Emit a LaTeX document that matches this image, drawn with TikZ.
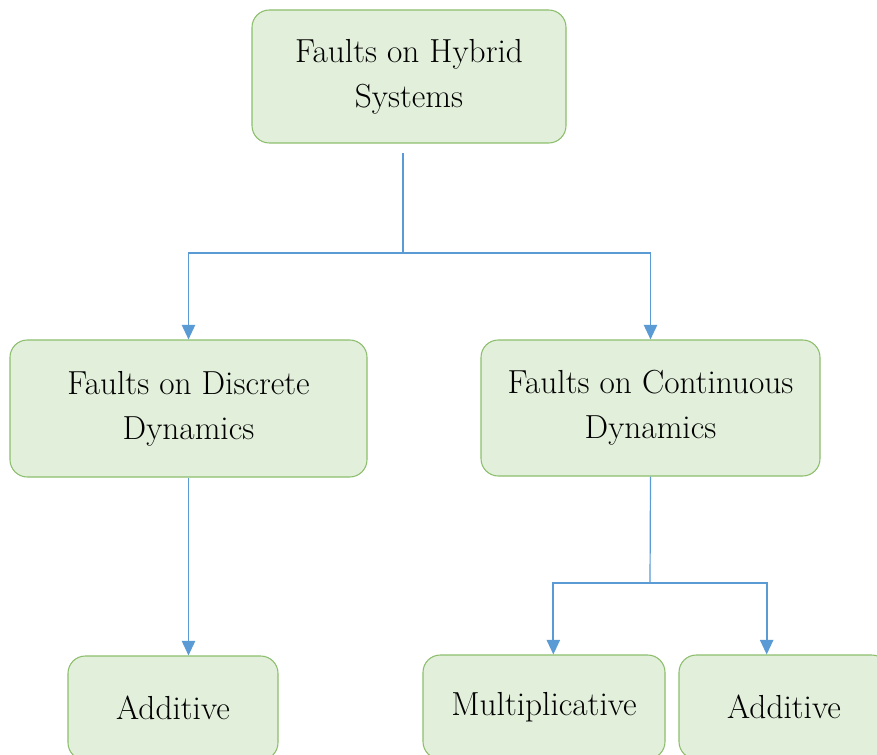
\documentclass[tikz,border=0pt]{standalone}
\usepackage{fontspec}
\usetikzlibrary{arrows.meta}
\usetikzlibrary{calc}
\definecolor{boxfill}{HTML}{E2EFDA}
\definecolor{boxline}{HTML}{8DBE6E}
\definecolor{linkblue}{HTML}{5B9BD5}
\tikzstyle{faultbox}=[draw=boxline,fill=boxfill,rounded corners=13pt,line width=0.8pt,align=center,inner sep=0pt,font=\fontsize{25}{34}\selectfont]
\tikzstyle{stem} = [draw=linkblue,line width=0.9pt]
\tikzstyle{link} = [draw=linkblue,line width=1.3pt,-{Triangle[length=11pt,width=10pt]}]

\begin{document}
\begin{tikzpicture}[x=0.75pt,y=-0.75pt]
    \clip (0,0) rectangle (877,755);
    \fill[white] (0,0) rectangle (877,755);

    % boxes
    \node[faultbox,minimum width=235.5pt,minimum height=99.75pt] (hybrid) at (409,76.5) {Faults on Hybrid\\Systems};
    \node[faultbox,minimum width=267.75pt,minimum height=102.75pt] (discrete) at (188.5,408.5) {Faults on Discrete\\Dynamics};
    \node[faultbox,minimum width=254.25pt,minimum height=102pt] (continuous) at (650.5,408) {Faults on Continuous\\Dynamics};
    \node[faultbox,minimum width=157.5pt,minimum height=78pt] (addleft) at (173,708) {Additive};
    \node[faultbox,minimum width=181.5pt,minimum height=78pt] (multi) at (544,707) {Multiplicative};
    \node[faultbox,minimum width=157.5pt,minimum height=78pt] (addright) at (784,707) {Additive};

    % splitting points
    \coordinate (stemtop) at (403,153);
    \coordinate (split) at (403,253);
    \coordinate (split2) at (650,583);

    \draw[stem] (stemtop) -- (split);
    \draw[link] (split) -| (discrete.north);
    \draw[link] (split) -| (continuous.north);

    \draw[link] (discrete.south) -- (discrete.south |- addleft.north);

    \draw[stem] (continuous.south) -- (split2);
    \draw[link] (split2) -| ([xshift=7pt]multi.north);
    \draw[link] (split2) -| ([xshift=-13pt]addright.north);

\end{tikzpicture}
\end{document}
